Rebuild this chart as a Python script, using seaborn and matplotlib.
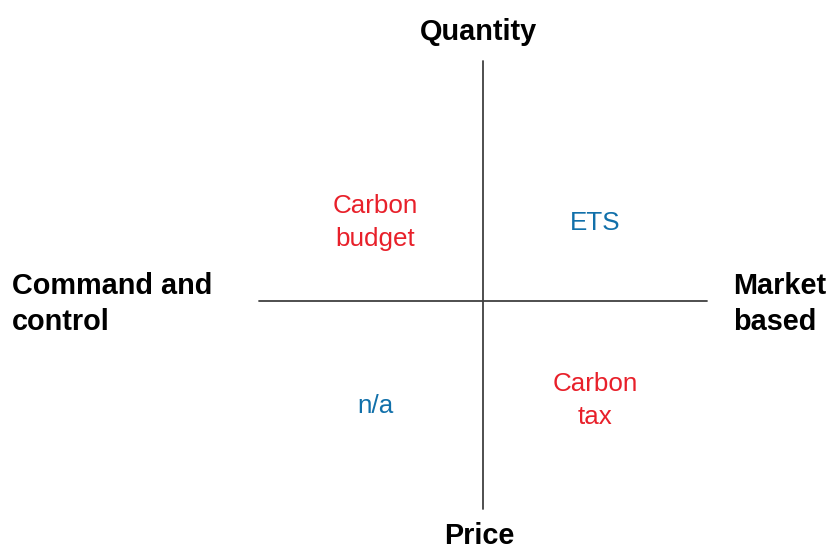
import pandas as pd
import matplotlib.pyplot as plt
import seaborn as sns

# quadrant labels (x side, y side, text, colour group)
quad_text = ["Carbon\nbudget", "ETS", "n/a", "Carbon\ntax"]
quad_x = [-0.48, 0.5, -0.48, 0.5]
quad_y = [0.351, 0.35, -0.47, -0.445]
quad_kind = ["red", "blue", "blue", "red"]

# axis ends
axis_names = ["Quantity", "Price", "Command and\ncontrol", "Market\nbased"]
h_ends = [-1.0, 1.0]
v_ends = [-0.93, 1.07]

sns.set_style("white")
plt.rcParams['font.family'] = ['Liberation Sans', 'DejaVu Sans']
plt.rcParams['text.color'] = 'black'

fig = plt.figure(figsize=(8.29, 5.49), dpi=100)
ax = fig.add_axes([0, 0, 1, 1])
ax.set_xlim(-2.156, 1.545)
ax.set_ylim(-1.107, 1.344)
ax.axis("off")

lines = pd.DataFrame({
    "x": h_ends + [0, 0],
    "y": [0, 0] + v_ends,
    "axis": ["h", "h", "v", "v"],
})
for name, grp in lines.groupby("axis"):
    sns.lineplot(data=grp, x="x", y="y", ax=ax, color="#404040", lw=1.3,
                 sort=False, estimator=None)

colours = {"red": "#E8202A", "blue": "#1170AA"}
for t, x, y, k in zip(quad_text, quad_x, quad_y, quad_kind):
    ax.text(x, y, t, color=colours[k], fontsize=18.7, ha="center", va="center",
            linespacing=1.45)

bold = dict(fontsize=20.8, fontweight="bold", color="black")
ax.text(-0.022, 1.20, axis_names[0], ha="center", va="center", **bold)
ax.text(-0.018, -1.085, axis_names[1], ha="center", va="baseline", **bold)
ax.text(-2.103, -0.013, axis_names[2], ha="left", va="center", linespacing=1.34, **bold)
ax.text(1.116, -0.013, axis_names[3], ha="left", va="center", linespacing=1.34, **bold)

plt.savefig("out.png", dpi=100)
